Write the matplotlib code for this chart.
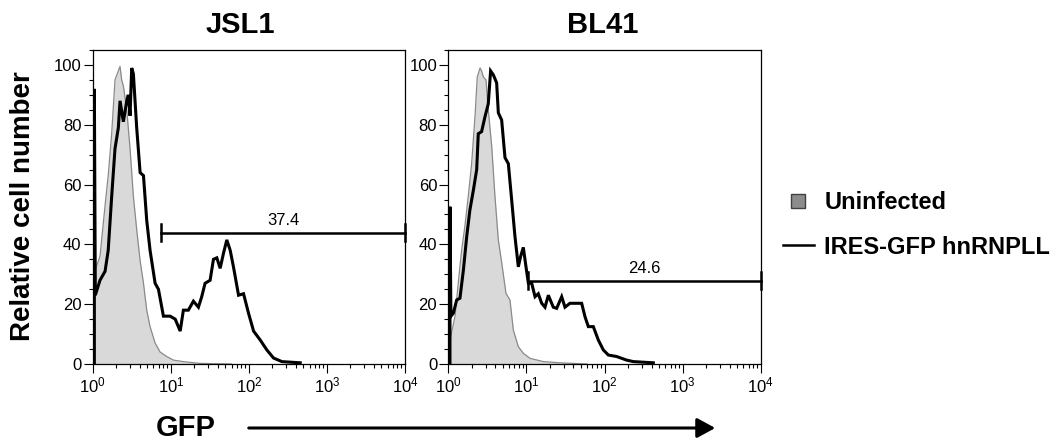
import numpy as np
import matplotlib
matplotlib.use("Agg")
import matplotlib.pyplot as plt
from matplotlib.lines import Line2D
from matplotlib.patches import FancyArrowPatch
from matplotlib.ticker import LogLocator, MultipleLocator, FixedLocator, NullFormatter

plt.rcParams['font.family'] = ['Liberation Sans', 'DejaVu Sans']
plt.rcParams['mathtext.fontset'] = 'custom'
plt.rcParams['mathtext.rm'] = 'Liberation Sans'
plt.rcParams['mathtext.it'] = 'Liberation Sans:italic'
plt.rcParams['mathtext.bf'] = 'Liberation Sans:bold'

# ---- data (GFP intensity, relative cell number) ----
titles = ["JSL1", "BL41"]

jsl1_uninf_x = [1.0, 1.02, 1.13, 1.24, 1.44, 1.58, 1.75, 1.93, 2.13, 2.24, 2.35, 2.47, 2.73,
                3.01, 3.32, 3.66, 4.05, 4.47, 4.92, 5.43, 6.30, 7.30, 8.89, 10.8, 14.5, 23.8, 60.0]
jsl1_uninf_y = [0, 30, 33, 36, 53, 63, 77, 95, 98, 99.5, 95, 93, 85,
                72, 56, 45, 34.5, 27, 18, 12.5, 7, 4, 2.5, 1.3, 0.8, 0.2, 0]

jsl1_gfp_x = [1.05, 1.05, 1.08, 1.24, 1.44, 1.58, 1.75, 1.93, 2.13, 2.24, 2.47, 2.73, 2.86,
              3.01, 3.16, 3.32, 3.66, 4.05, 4.47, 4.92, 5.43, 6.30, 6.95, 8.05, 9.8, 11.4,
              13.2, 14.5, 16.8, 19.5, 22.6, 24.9, 27.5, 31.9, 35.2, 38.9, 42.9, 47.3, 52.2,
              57.7, 63.5, 73.8, 85.5, 99, 115, 140, 170, 207, 265, 455]
jsl1_gfp_y = [0, 92, 23, 28, 31, 38, 56, 72, 79, 88, 81, 88, 90,
              83, 99, 97, 79, 64, 63, 48, 38, 27, 25, 16, 16, 15,
              11, 18, 18, 21, 19, 22.5, 27, 28, 35, 35.5, 32, 37, 41.5,
              38, 32.5, 23, 23.5, 17, 11, 8, 4.7, 2, 0.8, 0.4]

bl41_uninf_x = [1.0, 1.07, 1.22, 1.34, 1.48, 1.63, 1.80, 1.99, 2.20, 2.35, 2.55, 2.67, 2.81,
                3.04, 3.25, 3.59, 3.96, 4.37, 4.82, 5.48, 6.16, 6.80, 7.88, 9.13, 11.1, 16.5,
                26.9, 39.9, 60.0]
bl41_uninf_y = [0, 9, 16, 27, 38, 46, 56, 67, 83, 96, 99, 98, 96,
                95, 85, 73, 56, 41.5, 34, 23.6, 21.4, 11.4, 5.8, 3.6, 1.9, 0.8,
                0.4, 0.2, 0]

bl41_gfp_x = [1.05, 1.05, 1.08, 1.16, 1.28, 1.41, 1.56, 1.72, 1.89, 2.09, 2.31, 2.42, 2.67,
              2.95, 3.25, 3.48, 3.77, 4.16, 4.37, 4.82, 5.32, 5.87, 6.47, 7.14, 7.88, 8.44,
              9.13, 9.88, 10.6, 11.7, 12.9, 14.2, 15.7, 17.3, 19.1, 22.1, 24.4, 28.3, 31.2,
              36.1, 41.9, 51.0, 56.3, 62.1, 71.9, 83.4, 96.6, 112, 143, 192, 234, 422]
bl41_gfp_y = [0, 52.6, 16, 17, 21.4, 22, 31.4, 42.6, 51.5, 58, 65, 77, 77.7,
              82.7, 87, 98, 96.7, 94, 84, 81.6, 69, 67, 55, 42.6, 32.5, 36,
              39, 32.5, 27, 27, 22.5, 23.5, 20.3, 19, 23, 19, 18.6, 22.5, 19,
              20.3, 20.3, 20.3, 15.8, 12.5, 12.5, 8, 4.7, 3, 2.5, 1.3, 0.8, 0.4]

gate_lo = [7.5, 10.6]
gate_hi = [1e4, 1e4]
gate_y = [43.9, 27.9]
gate_pct = ["37.4", "24.6"]

legend_labels = ["Uninfected", "IRES-GFP hnRNPLL"]

W, H = 1060, 443
fig = plt.figure(figsize=(W / 100, H / 100), dpi=100)


def fx(px):
    return px / W


def fy(py):
    return 1 - py / H


panels = [
    (titles[0], jsl1_uninf_x, jsl1_uninf_y, jsl1_gfp_x, jsl1_gfp_y, 92.7, 405.0, 240),
    (titles[1], bl41_uninf_x, bl41_uninf_y, bl41_gfp_x, bl41_gfp_y, 448.3, 760.7, 603),
]

for i, (title, ux, uy, gx, gy, left, right, tx) in enumerate(panels):
    ax = fig.add_axes([fx(left), fy(364), fx(right - left), (364 - 50) / H])
    ax.set_xscale('log')
    ax.set_xlim(1, 1e4)
    ax.set_ylim(0, 105)

    ax.fill_between(ux, uy, 0, color='#d9d9d9', lw=0, zorder=1)
    ax.plot(ux, uy, color='#8a8a8a', lw=0.9, zorder=2)
    ax.plot(gx, gy, color='black', lw=2.2, zorder=3, solid_joinstyle='miter')

    # gate
    ax.plot([gate_lo[i], gate_hi[i]], [gate_y[i], gate_y[i]], color='black', lw=1.8,
            zorder=4, clip_on=False)
    for xe in (gate_lo[i], gate_hi[i]):
        ax.plot([xe, xe], [gate_y[i] - 2.8, gate_y[i] + 2.8], color='black', lw=1.8,
                zorder=4, clip_on=False)
    xm = np.sqrt(gate_lo[i] * gate_hi[i])
    ax.text(xm, gate_y[i] + 1.5, gate_pct[i], ha='center', va='bottom', fontsize=12)

    ax.xaxis.set_major_locator(FixedLocator([1, 10, 100, 1000, 10000]))
    ax.xaxis.set_minor_locator(LogLocator(base=10, subs=np.arange(2, 10)))
    ax.xaxis.set_minor_formatter(NullFormatter())
    ax.set_xticklabels([r'$\mathdefault{10^{%d}}$' % k for k in range(5)])
    ax.yaxis.set_major_locator(FixedLocator([0, 20, 40, 60, 80, 100]))
    ax.yaxis.set_minor_locator(MultipleLocator(5))
    ax.tick_params(which='major', length=6.5, width=0.8, labelsize=12, pad=1.5)
    ax.tick_params(which='minor', length=3, width=0.8)
    for sp in ax.spines.values():
        sp.set_linewidth(0.9)

    fig.text(fx(tx), fy(25), title, ha='center', va='center', fontsize=21, fontweight='bold')

fig.text(fx(23), fy(206), "Relative cell number", rotation=90, ha='center', va='center',
         fontsize=20, fontweight='bold')

# GFP axis arrow
fig.text(fx(186), fy(428), "GFP", ha='center', va='center', fontsize=21, fontweight='bold')
arrow = FancyArrowPatch((fx(246), fy(428)), (fx(718), fy(428)), transform=fig.transFigure,
                        arrowstyle='-|>,head_length=0.55,head_width=0.3', mutation_scale=20,
                        color='black', lw=2.2)
fig.add_artist(arrow)

handles = [
    Line2D([], [], marker='s', linestyle='none', markersize=10, markerfacecolor='#8c8c8c',
           markeredgecolor='#404040', markeredgewidth=1.0),
    Line2D([], [], color='black', lw=1.8),
]
fig.legend(handles, legend_labels, loc='center left', bbox_to_anchor=(fx(771), fy(225)),
           frameon=False, prop={'size': 17, 'weight': 'bold'}, handlelength=1.3,
           handletextpad=0.45, labelspacing=0.9, borderpad=0)

fig.savefig("out.png", dpi=100)
